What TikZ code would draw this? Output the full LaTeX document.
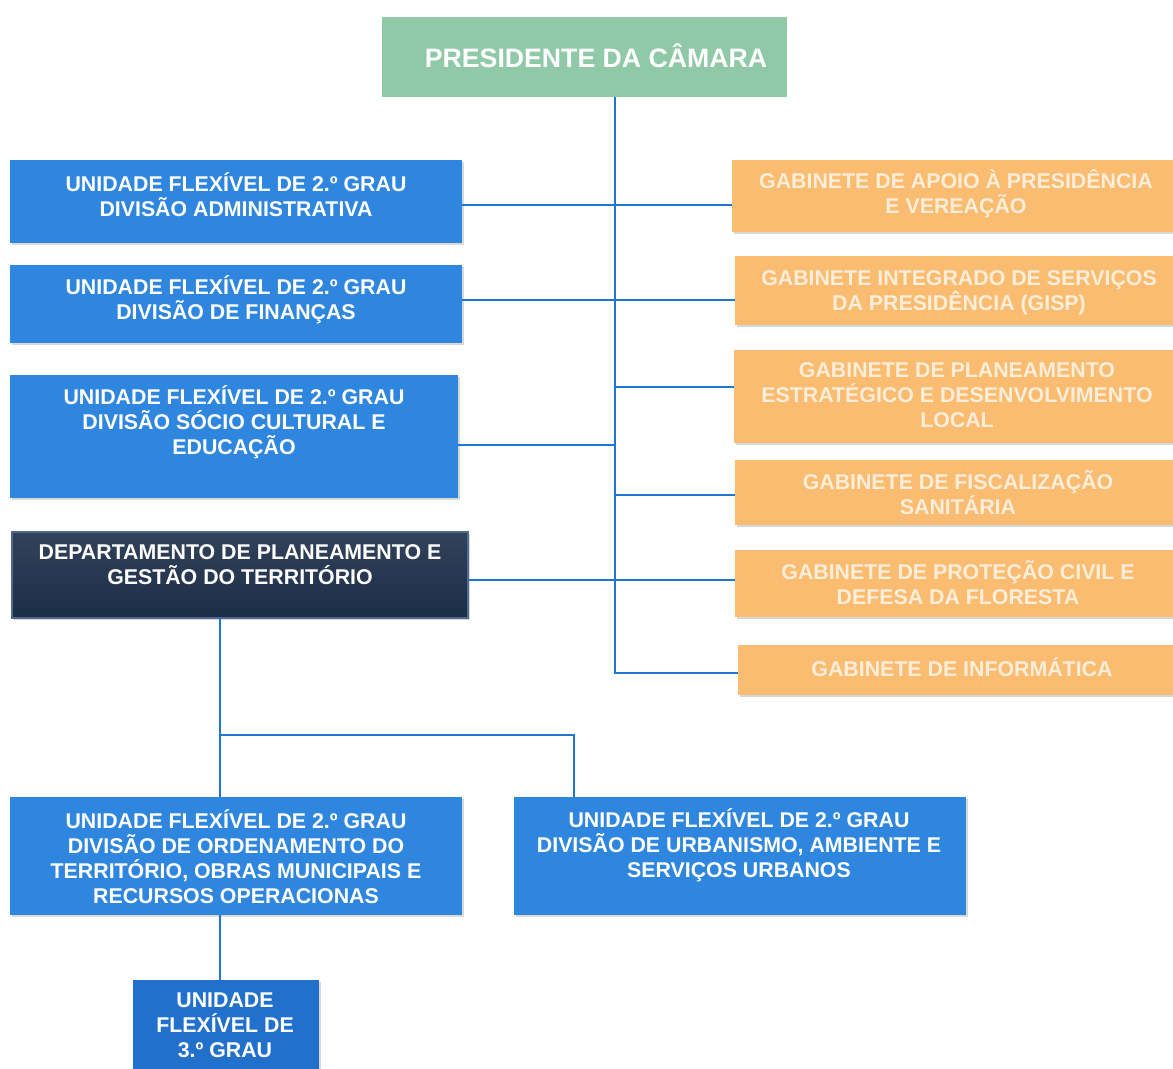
\documentclass[tikz,border=0pt]{standalone}
\usepackage{fontspec}
\setmainfont{Liberation Sans}
\usetikzlibrary{fit,shadows}
\definecolor{presgreen}{RGB}{143,201,168}
\definecolor{boxblue}{RGB}{46,134,222}
\definecolor{boxblueb}{RGB}{32,112,204}
\definecolor{navy}{RGB}{28,45,72}
\definecolor{navyedge}{RGB}{80,105,140}
\definecolor{gaborange}{RGB}{250,188,112}
\definecolor{gabtext}{RGB}{253,238,218}
\definecolor{linkblue}{RGB}{30,120,210}
\tikzset{
  shadowed/.style={drop shadow={opacity=0.3, shadow xshift=1.2pt, shadow yshift=-1.8pt}},
  frame/.style={inner sep=0pt, outer sep=0pt, rectangle},
  presbox/.style={frame, fill=presgreen},
  bluebox/.style={frame, fill=boxblue, shadowed},
  bluedark/.style={frame, fill=boxblueb, shadowed},
  navybox/.style={frame, top color=navy!90!white, bottom color=navy, draw=navyedge, line width=0.8pt, shadowed},
  orangebox/.style={frame, fill=gaborange, shadowed},
  wtxt/.style={text=white, align=center, font=\bfseries\fontsize{16}{18.75}\selectfont, inner sep=0pt},
  otxt/.style={wtxt, text=gabtext},
  ptxt/.style={wtxt, font=\bfseries\fontsize{20}{24}\selectfont},
  link/.style={draw=linkblue, line width=1.4pt}
}
\begin{document}
\begin{tikzpicture}[x=0.75pt, y=-0.75pt]
\useasboundingbox (0,0) rectangle (1173,1068);
\clip (0,0) rectangle (1173,1068);
\fill[white] (0,0) rectangle (1173,1068);

% president
\node[presbox, fit={(382,17) (787,97)}] (pres) {};
\node[ptxt] (prest) at (596,56) {PRESIDENTE DA CÂMARA};

% left blue boxes
\node[bluebox, fit={(10,160) (462,243)}] (b1) {};
\node[wtxt] (b1t) at (236,194.5) {UNIDADE FLEXÍVEL DE 2.º GRAU\\DIVISÃO ADMINISTRATIVA};
\node[bluebox, fit={(10,265) (462,343)}] (b2) {};
\node[wtxt] (b2t) at (236,299.5) {UNIDADE FLEXÍVEL DE 2.º GRAU\\DIVISÃO DE FINANÇAS};
\node[bluebox, fit={(10,375) (458,498)}] (b3) {};
\node[wtxt] (b3t) at (234,422) {UNIDADE FLEXÍVEL DE 2.º GRAU\\DIVISÃO SÓCIO CULTURAL E\\EDUCAÇÃO};
\node[navybox, fit={(12,532) (468,618)}] (dep) {};
\node[wtxt] (dept) at (240,565) {DEPARTAMENTO DE PLANEAMENTO E\\GESTÃO DO TERRITÓRIO};

% bottom boxes
\node[bluebox, fit={(10,797) (462,915)}] (bl) {};
\node[wtxt] (blt) at (236,857) {UNIDADE FLEXÍVEL DE 2.º GRAU\\DIVISÃO DE ORDENAMENTO DO\\TERRITÓRIO, OBRAS MUNICIPAIS E\\RECURSOS OPERACIONAS};
\node[bluebox, fit={(514,797) (966,915)}] (br) {};
\node[wtxt] (brt) at (739,845) {UNIDADE FLEXÍVEL DE 2.º GRAU\\DIVISÃO DE URBANISMO, AMBIENTE E\\SERVIÇOS URBANOS};
\node[bluedark, fit={(133,980) (319,1080)}] (u3) {};
\node[wtxt] (u3t) at (225,1025) {UNIDADE\\FLEXÍVEL DE\\3.º GRAU};

% orange boxes
\node[orangebox, fit={(732,160) (1182,232)}] (o1) {};
\node[otxt] (o1t) at (956,193.5) {GABINETE DE APOIO À PRESIDÊNCIA\\E VEREAÇÃO};
\node[orangebox, fit={(735,256) (1182,325)}] (o2) {};
\node[otxt] (o2t) at (959,292.5) {GABINETE INTEGRADO DE SERVIÇOS\\DA PRESIDÊNCIA (GISP)};
\node[orangebox, fit={(734,350) (1182,443)}] (o3) {};
\node[otxt] (o3t) at (957,395) {GABINETE DE PLANEAMENTO\\ESTRATÉGICO E DESENVOLVIMENTO\\LOCAL};
\node[orangebox, fit={(735,460) (1182,525)}] (o4) {};
\node[otxt] (o4t) at (958,493) {GABINETE DE FISCALIZAÇÃO\\SANITÁRIA};
\node[orangebox, fit={(735,550) (1182,617)}] (o5) {};
\node[otxt] (o5t) at (958,583) {GABINETE DE PROTEÇÃO CIVIL E\\DEFESA DA FLORESTA};
\node[orangebox, fit={(738,645) (1182,695)}] (o6) {};
\node[otxt] (o6t) at (962,667) {GABINETE DE INFORMÁTICA};

% connectors
\coordinate (trunk) at (615,673);
\draw[link] (pres.south -| trunk) -- (trunk) -- (o6.west |- trunk);
\draw[link] (b1.east |- 0,205) -- (o1.west |- 0,205);
\draw[link] (b2.east |- 0,300) -- (o2.west |- 0,300);
\draw[link] (trunk |- 0,387) -- (o3.west |- 0,387);
\draw[link] (b3.east |- 0,445) -- (trunk |- 0,445);
\draw[link] (trunk |- 0,495) -- (o4.west |- 0,495);
\draw[link] (dep.east |- 0,580) -- (o5.west |- 0,580);

\coordinate (jl) at (220,735);
\coordinate (jr) at (574,735);
\draw[link] (dep.south -| jl) -- (jl) -- (jl |- bl.north);
\draw[link] (jl) -- (jr) -- (jr |- br.north);
\draw[link] (bl.south -| jl) -- (u3.north -| jl);
\end{tikzpicture}
\end{document}
